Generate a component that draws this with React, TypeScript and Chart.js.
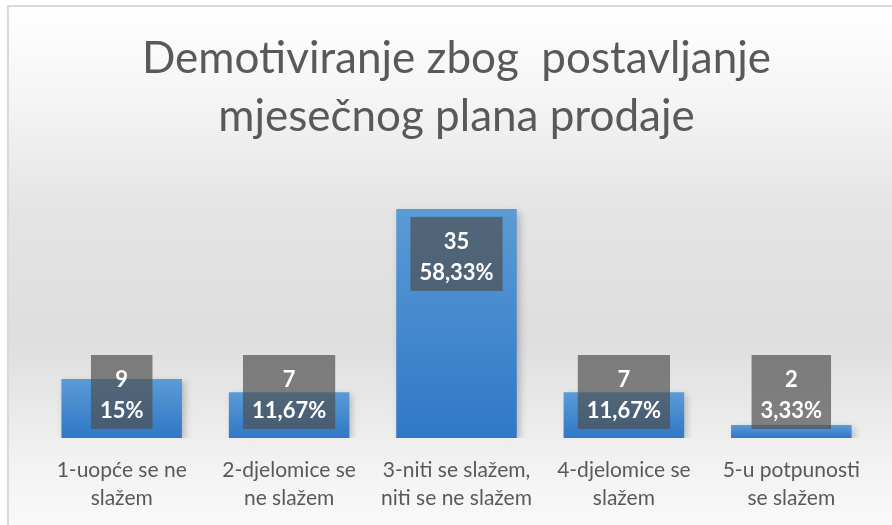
import React, { useEffect, useRef } from "react";
import { Chart, registerables } from "chart.js";

Chart.register(...registerables);

const titleLines = ["Demotiviranje zbog  postavljanje", "mjesečnog plana prodaje"];
const categories = [
  ["1-uopće se ne", "slažem"],
  ["2-djelomice se", "ne slažem"],
  ["3-niti se slažem,", "niti se ne slažem"],
  ["4-djelomice se", "slažem"],
  ["5-u potpunosti", "se slažem"],
];
const counts = [9, 7, 35, 7, 2];
const percents = ["15%", "11,67%", "58,33%", "11,67%", "3,33%"];

const FONT = "Lato, 'Open Sans', sans-serif";

const shadowPlugin = {
  id: "barShadow",
  beforeDatasetDraw(chart: any) {
    const ctx = chart.ctx;
    ctx.save();
    ctx.shadowColor = "rgba(0,0,0,0.22)";
    ctx.shadowBlur = 7;
    ctx.shadowOffsetX = 3;
    ctx.shadowOffsetY = 3;
  },
  afterDatasetDraw(chart: any) {
    chart.ctx.restore();
  },
};

const labelBoxes = {
  id: "labelBoxes",
  afterDatasetsDraw(chart: any) {
    const ctx = chart.ctx;
    const meta = chart.getDatasetMeta(0);
    ctx.save();
    ctx.font = `bold 22px ${FONT}`;
    ctx.textAlign = "center";
    ctx.textBaseline = "alphabetic";
    meta.data.forEach((el: any, i: number) => {
      const { x, y, base } = el.getProps(["x", "y", "base"], true);
      const lines = [String(counts[i]), percents[i]];
      const w = Math.max(...lines.map((l) => ctx.measureText(l).width)) + 18;
      const h = 74;
      const top = Math.min(y + 8, base - 9 - h);
      ctx.fillStyle = "rgba(78,78,78,0.69)";
      ctx.fillRect(x - w / 2, top, w, h);
      ctx.fillStyle = "#ffffff";
      ctx.fillText(lines[0], x, top + 32);
      ctx.fillText(lines[1], x, top + 63);
    });
    ctx.restore();
  },
};

export default function App() {
  const ref = useRef<HTMLCanvasElement | null>(null);

  useEffect(() => {
    if (!ref.current) return;
    const chart = new Chart(ref.current, {
      type: "bar",
      data: {
        labels: categories,
        datasets: [
          {
            data: counts,
            backgroundColor: (c: any) => {
              const ch = c.chart;
              if (c.type !== "data" || !ch.chartArea || !ch.scales?.y) return "#4a8ad0";
              const yTop = ch.scales.y.getPixelForValue(c.parsed.y);
              const yBase = ch.scales.y.getPixelForValue(0);
              if (!isFinite(yTop) || !isFinite(yBase) || yTop === yBase) return "#4a8ad0";
              const g = ch.ctx.createLinearGradient(0, yTop, 0, yBase);
              g.addColorStop(0, "#5b9bd6");
              g.addColorStop(1, "#2f78c6");
              return g;
            },
            borderWidth: 0,
            barPercentage: 0.72,
            categoryPercentage: 1,
          },
        ],
      },
      options: {
        responsive: false,
        animation: false,
        devicePixelRatio: 1,
        layout: { padding: { left: 38, right: 17, top: 0, bottom: 0 } },
        plugins: {
          legend: { display: false },
          tooltip: { enabled: false },
          title: {
            display: true,
            text: titleLines,
            color: "#595959",
            font: { family: FONT, size: 44, weight: "normal", lineHeight: 1.32 },
            padding: { top: 30, bottom: 30 },
          },
        },
        scales: {
          x: {
            grid: { display: false, drawTicks: false },
            border: { display: false },
            afterFit: (scale: any) => {
              scale.height = 87;
            },
            ticks: {
              color: "#595959",
              font: { family: FONT, size: 21, lineHeight: 1.33 },
              padding: 18,
              maxRotation: 0,
              autoSkip: false,
            },
          },
          y: {
            display: false,
            min: 0,
            max: 40,
          },
        },
      },
      plugins: [shadowPlugin, labelBoxes],
    });
    return () => chart.destroy();
  }, []);

  return (
    <div
      style={{
        position: "fixed",
        left: 0,
        top: 0,
        width: 892,
        height: 525,
        overflow: "hidden",
        background: "#ffffff",
      }}
    >
      <div
        style={{
          position: "absolute",
          left: 7,
          top: 5,
          width: 900,
          height: 540,
          boxSizing: "border-box",
          border: "2px solid #d9d9d9",
          background:
            "linear-gradient(to bottom, #ffffff 0%, #f4f4f4 18%, #e4e4e4 38%, #dedede 62%, #f2f2f2 85%, #fbfbfb 100%)",
        }}
      />
      <canvas
        ref={ref}
        width={892}
        height={525}
        style={{ position: "absolute", left: 0, top: 0, width: 892, height: 525 }}
      />
    </div>
  );
}
